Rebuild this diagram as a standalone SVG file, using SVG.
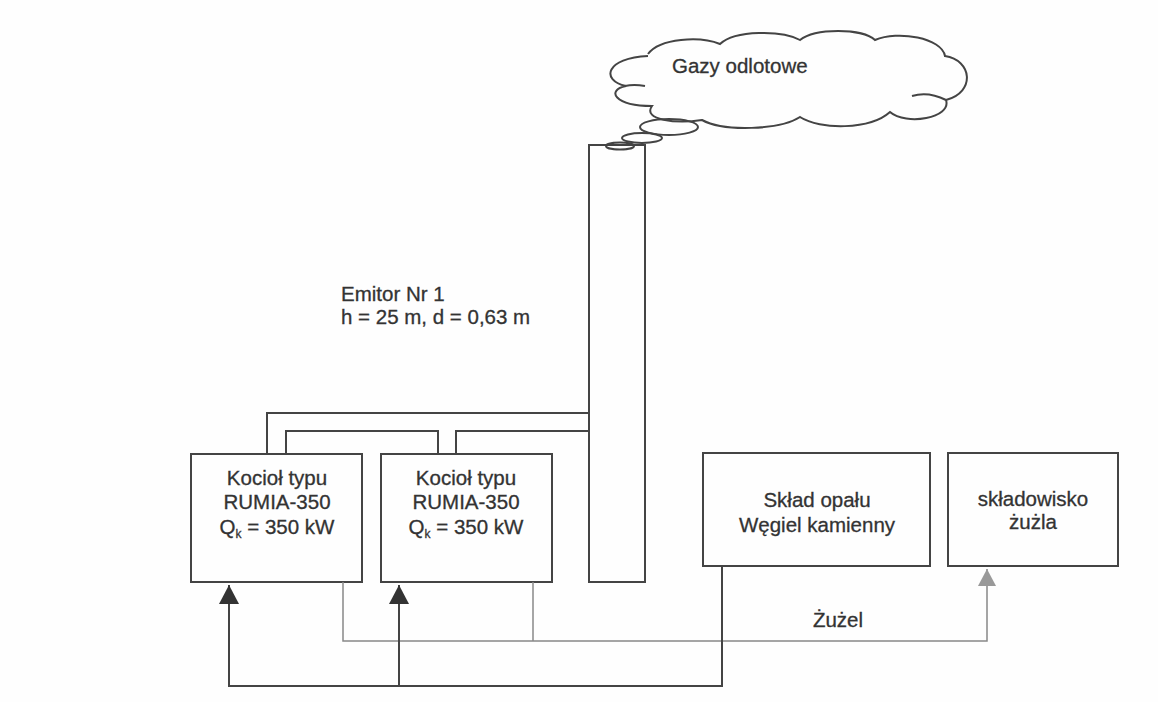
<svg xmlns="http://www.w3.org/2000/svg" width="1158" height="702" viewBox="0 0 1158 702">
<style>
  .box{fill:none;stroke:#444;stroke-width:2}
  .t{font-family:"Liberation Sans",Arial,sans-serif;font-size:20.5px;fill:#333;stroke:#333;stroke-width:0.3}
  .c{text-anchor:middle}
  .ln{fill:none;stroke:#444;stroke-width:2}
  .sl{fill:none;stroke:#888;stroke-width:1.5}
</style>
<defs>
  <marker id="ab" markerUnits="userSpaceOnUse" markerWidth="20" markerHeight="20" refX="19" refY="10" orient="auto">
    <path d="M0,0 L19,10 L0,20 Z" fill="#333"/>
  </marker>
  <marker id="ag" markerUnits="userSpaceOnUse" markerWidth="18" markerHeight="18" refX="17" refY="9" orient="auto">
    <path d="M0,0 L17,9 L0,18 Z" fill="#999"/>
  </marker>
</defs>
<rect width="1158" height="702" fill="#fefefe"/>

<g id="cloud">
  <path class="box" d="M648,54 C660,38 700,36 720,44 C735,30 782,30 800,40 C815,28 862,28 875,40 C898,30 942,38 945,56 C972,60 976,92 946,100 C952,118 906,126 890,112 C870,130 820,130 800,117 C780,130 724,132 702,120 C676,124 642,120 652,106 C614,106 606,90 626,86 C600,80 606,58 648,56"/>
  <path class="box" d="M625,86 C633,84 640,85 645,86"/>
  <path class="box" d="M912,96 C925,92 938,96 946,100"/>
  <text class="t" x="672" y="73">Gazy odlotowe</text>
  <ellipse class="box" cx="669" cy="127" rx="29" ry="8"/>
  <ellipse class="box" cx="642" cy="138" rx="20" ry="5"/>
  <ellipse class="box" cx="620" cy="146" rx="14" ry="3.5"/>
</g>

<g id="emitor">
  <rect class="box" x="589" y="145" width="56" height="437"/>
  <text class="t" x="341" y="301">Emitor Nr 1</text>
  <text class="t" x="341" y="324">h = 25 m, d = 0,63 m</text>
</g>

<g id="kociol1">
  <rect class="box" x="191" y="454" width="171" height="128"/>
  <text class="t c" x="277" y="485">Kocioł typu</text>
  <text class="t c" x="277" y="509">RUMIA-350</text>
  <text class="t c" x="277" y="534">Q<tspan font-size="12" dy="4">k</tspan><tspan dy="-4"> = 350 kW</tspan></text>
</g>

<g id="kociol2">
  <rect class="box" x="381" y="454" width="171" height="128"/>
  <text class="t c" x="466" y="485">Kocioł typu</text>
  <text class="t c" x="466" y="509">RUMIA-350</text>
  <text class="t c" x="466" y="534">Q<tspan font-size="12" dy="4">k</tspan><tspan dy="-4"> = 350 kW</tspan></text>
</g>

<g id="sklad-opalu">
  <rect class="box" x="703" y="453" width="227" height="113"/>
  <text class="t c" x="817" y="507">Skład opału</text>
  <text class="t c" x="817" y="532">Węgiel kamienny</text>
</g>

<g id="skladowisko">
  <rect class="box" x="948" y="453" width="170" height="113"/>
  <text class="t c" x="1033" y="506">składowisko</text>
  <text class="t c" x="1033" y="529">żużla</text>
</g>

<g id="connectors">
  <path class="ln" d="M267,454 V413 H589"/>
  <path class="ln" d="M286,454 V431 H438 V454"/>
  <path class="ln" d="M456,454 V431 H589"/>
  <path class="sl" d="M343,582 V641 H987 V569" marker-end="url(#ag)"/>
  <path class="sl" d="M533,582 V641"/>
  <path class="ln" d="M722,566 V686 H229 V585" marker-end="url(#ab)"/>
  <path class="ln" d="M399,686 V585" marker-end="url(#ab)"/>
  <text class="t c" x="838" y="627">Żużel</text>
</g>
</svg>
